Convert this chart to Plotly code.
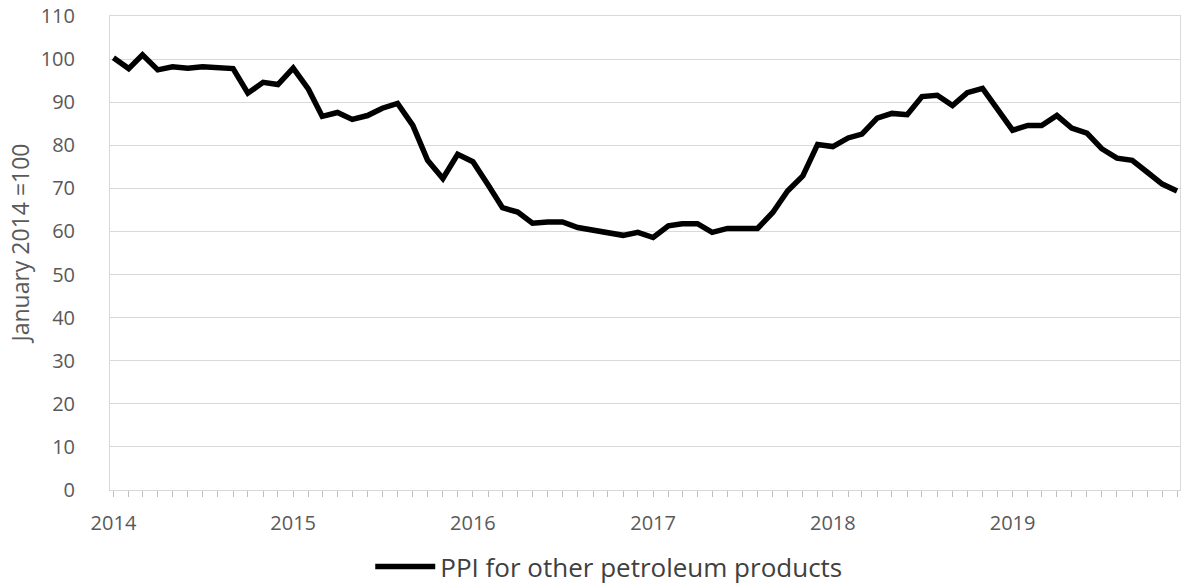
import plotly.graph_objects as go
import pandas as pd

# Monthly index values, January 2014 = 100
months = pd.date_range("2014-01-01", "2019-12-01", freq="MS")
ppi_2014 = [100.3, 97.8, 101.0, 97.5, 98.2, 97.9, 98.2, 97.9, 97.8, 92.1, 94.6, 94.1]
ppi_2015 = [97.9, 93.0, 86.7, 87.6, 86.0, 86.9, 88.6, 89.7, 84.6, 76.5, 72.3, 77.9]
ppi_2016 = [76.2, 70.8, 65.5, 64.5, 61.9, 62.2, 62.2, 60.9, 60.2, 59.6, 59.1, 59.8]
ppi_2017 = [58.6, 61.3, 61.8, 61.8, 59.8, 60.7, 60.7, 60.7, 64.4, 69.4, 72.9, 80.2]
ppi_2018 = [79.7, 81.7, 82.6, 86.3, 87.4, 87.1, 91.3, 91.6, 89.2, 92.2, 93.2, 88.5]
ppi_2019 = [83.5, 84.6, 84.6, 86.9, 84.0, 82.8, 79.2, 77.0, 76.5, 73.8, 71.0, 69.4]
ppi = ppi_2014 + ppi_2015 + ppi_2016 + ppi_2017 + ppi_2018 + ppi_2019

series_name = "PPI for other petroleum products"
y_title = "January 2014 =100"

FONT = "'Open Sans', Lato, sans-serif"
GRID = "#d9d9d9"
TEXT = "#595959"

fig = go.Figure()
fig.add_trace(go.Scatter(
    x=months, y=ppi, mode="lines", name=series_name,
    line=dict(color="#000000", width=5.5),
))

fig.update_layout(
    width=1183, height=584,
    margin=dict(l=110, r=2, t=14, b=94),
    plot_bgcolor="white", paper_bgcolor="white",
    font=dict(family=FONT, color=TEXT, size=20),
    showlegend=True,
    legend=dict(
        orientation="h", xref="container", yref="container",
        x=0.515, xanchor="center", y=0.03, yanchor="middle",
        font=dict(size=26, color="#404040", family=FONT),
        itemwidth=60,
    ),
    xaxis=dict(
        type="date",
        range=["2013-12-25", "2019-12-07"],
        tick0="2014-01-01", dtick="M12", tickformat="%Y",
        ticks="outside", ticklen=6, tickcolor="#bfbfbf",
        minor=dict(dtick="M1", ticks="outside", ticklen=6, tickcolor="#bfbfbf"),
        showgrid=False,
        showline=True, linecolor=GRID, linewidth=1, mirror=True,
        tickfont=dict(size=20, color=TEXT),
        ticklabelstandoff=9,
    ),
    yaxis=dict(
        range=[0, 110], dtick=10, tick0=0,
        showgrid=True, gridcolor=GRID, gridwidth=1,
        zeroline=False,
        showline=True, linecolor=GRID, linewidth=1, mirror=True,
        ticks="", tickfont=dict(size=20, color=TEXT),
        ticklabelstandoff=30,
    ),
    annotations=[dict(
        text=y_title, textangle=-90, showarrow=False,
        xref="paper", yref="paper", x=0, xshift=-90, y=0.52,
        xanchor="center", yanchor="middle",
        font=dict(size=23, color=TEXT, family=FONT),
    )],
)

fig.write_html("out.html")
